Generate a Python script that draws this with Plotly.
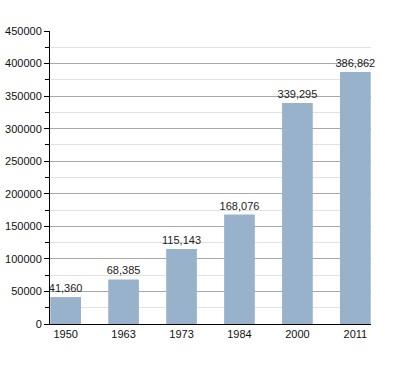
import plotly.graph_objects as go

years = ["1950", "1963", "1973", "1984", "2000", "2011"]
population = [41360, 68385, 115143, 168076, 339295, 386862]
labels = ["41,360", "68,385", "115,143", "168,076", "339,295", "386,862"]

fig = go.Figure()
fig.add_trace(go.Bar(
    x=years, y=population, text=labels, textposition="outside",
    constraintext="none",
    textfont=dict(size=11, color="#222"), cliponaxis=False,
    marker=dict(color="#98b2cc", line=dict(width=0)), width=0.53,
))
fig.update_layout(
    width=400, height=373,
    margin=dict(l=50, r=29, t=31, b=49, autoexpand=False),
    paper_bgcolor="white", plot_bgcolor="white",
    font=dict(family="Liberation Sans, Arial, sans-serif", size=11, color="#111"),
    showlegend=False,
    xaxis=dict(type="category", range=[-0.27, 5.27], showline=True, linecolor="black",
               linewidth=1, ticks="", showgrid=False, tickfont=dict(size=11),
               automargin=False),
    yaxis=dict(range=[0, 450000], dtick=50000, showline=True, linecolor="black",
               linewidth=1, ticks="outside", ticklen=5, tickcolor="black",
               gridcolor="#a8a8a8", gridwidth=1, tickformat="d", zeroline=False,
               tickfont=dict(size=11), automargin=False,
               minor=dict(dtick=25000, showgrid=True, gridcolor="#e2e2e2",
                          ticks="outside", ticklen=4, tickcolor="black")),
)
fig.write_html("out.html", config={"displayModeBar": False},
               post_script="document.body.style.margin='0';document.body.style.overflow='hidden';")
